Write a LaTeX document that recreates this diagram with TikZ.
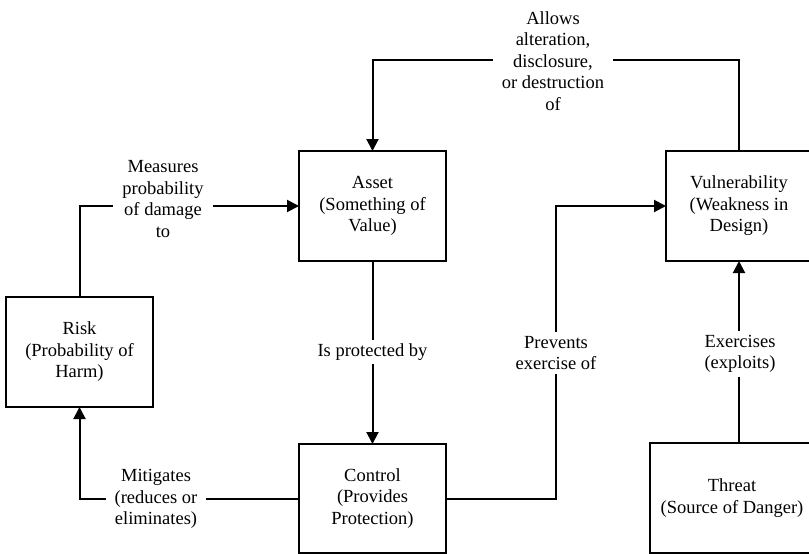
\documentclass[tikz,border=0pt]{standalone}
\usepackage{fontspec}
\setmainfont{Liberation Serif}
\usetikzlibrary{arrows.meta}
\begin{document}
\begin{tikzpicture}[x=1pt,y=-1pt,
  txt/.style={font=\fontsize{18.5}{21.5}\selectfont, align=center},
  box/.style={txt, draw, line width=2pt, rectangle, inner sep=0pt, outer sep=0pt},
  lbl/.style={txt, fill=white, inner xsep=9pt, inner ysep=4pt},
  conn/.style={line width=2pt},
  arr/.style={conn, -{Triangle[length=12pt,width=12pt]}}]
\useasboundingbox (0,0) rectangle (809,554);

% boxes
\node[box, minimum width=147pt, minimum height=110pt] (risk) at (79.5,352)
  {Risk\\(Probability of\\Harm)};
\node[box, minimum width=147pt, minimum height=110pt] (asset) at (372.5,206)
  {Asset\\(Something of\\Value)};
\node[box, minimum width=146pt, minimum height=110pt] (vuln) at (739,206)
  {Vulnerability\\(Weakness in\\Design)};
\node[box, minimum width=147pt, minimum height=109pt] (control) at (372.5,498.5)
  {Control\\(Provides\\Protection)};
\node[box, minimum width=164pt, minimum height=110pt] (threat) at (732,498)
  {Threat\\(Source of Danger)};

% turning points of the connectors
\coordinate (top) at (0,60);
\coordinate (mid) at (556,0);

% connectors
\draw[arr] (risk.north) |- (asset.west);
\draw[arr] (asset.south) -- (control.north);
\draw[arr] (control.west) -| (risk.south);
\draw[arr] (control.east) -| (mid |- asset.west) -- (vuln.west);
\draw[arr] (threat.north -| vuln.south) -- (vuln.south);
\draw[arr] (vuln.north) -- (vuln.north |- top) -- (asset.north |- top) -- (asset.north);

% connector labels
\node[lbl] (l1) at (163,199) {Measures\\probability\\of damage\\to};
\node[lbl] (l2) at (372.5,352) {Is protected by};
\node[lbl] (l3) at (156,499) {Mitigates\\(reduces or\\eliminates)};
\node[lbl] (l4) at (556,353) {Prevents\\exercise of};
\node[lbl] (l5) at (740,354) {Exercises\\(exploits)};
\node[lbl] (l6) at (553,61) {Allows\\alteration,\\disclosure,\\or destruction\\of};
\end{tikzpicture}
\end{document}
